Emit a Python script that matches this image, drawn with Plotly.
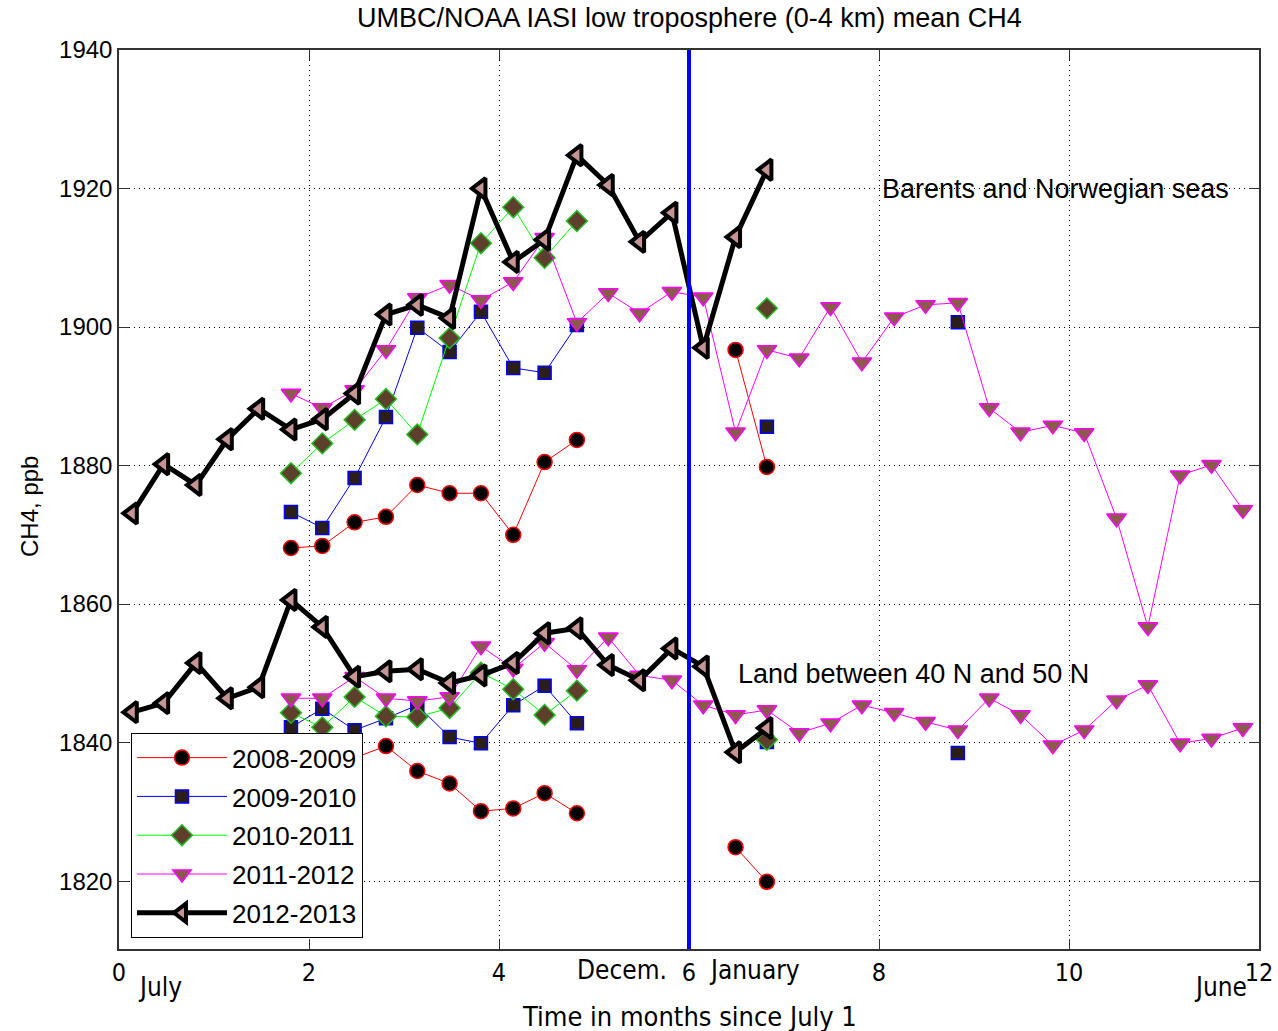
import plotly.graph_objects as go

# Time axis: ten-day steps, in months since July 1
TIME = [0.14, 0.47, 0.81, 1.14, 1.47, 1.81, 2.14, 2.48, 2.81, 3.14,
        3.48, 3.81, 4.15, 4.48, 4.82, 5.15, 5.48, 5.82, 6.15, 6.49,
        6.82, 7.16, 7.49, 7.82, 8.16, 8.49, 8.83, 9.16, 9.49, 9.83,
        10.16, 10.50, 10.83, 11.17, 11.50, 11.83]

N = None

# Barents and Norwegian seas, mean CH4 (ppb), one value per ten-day step
SEA_2008 = [N, N, N, N, N, 1868.1, 1868.4, 1871.8, 1872.6, 1877.2,
            1876.0, 1876.0, 1870.0, 1880.5, 1883.7, N, N, N, N, 1896.7,
            1879.8, N, N, N, N, N, N, N, N, N,
            N, N, N, N, N, N]
SEA_2009 = [N, N, N, N, N, 1873.3, 1871.0, 1878.2, 1887.0, 1899.9,
            1896.4, 1902.2, 1894.1, 1893.4, 1900.3, N, N, N, N, N,
            1885.6, N, N, N, N, N, 1900.7, N, N, N,
            N, N, N, N, N, N]
SEA_2010 = [N, N, N, N, N, 1878.9, 1883.2, 1886.6, 1889.6, 1884.5,
            1898.4, 1912.1, 1917.3, 1910.0, 1915.3, N, N, N, N, N,
            1902.7, N, N, N, N, N, N, N, N, N,
            N, N, N, N, N, N]
SEA_2011 = [N, N, N, N, N, 1890.4, 1888.3, 1890.9, 1896.7, 1904.2,
            1906.1, 1903.9, 1906.5, 1912.9, 1900.6, 1904.9, 1902.0, 1905.1, 1904.3, 1884.8,
            1896.7, 1895.5, 1902.9, 1894.9, 1901.4, 1903.2, 1903.5, 1888.3, 1884.8, 1885.8,
            1884.7, 1872.4, 1856.7, 1878.6, 1880.1, 1873.6]
SEA_2012 = [1873.1, 1880.2, 1877.2, 1883.8, 1888.2, 1885.2, 1886.7, 1890.4, 1901.8, 1903.2,
            1901.3, 1920.0, 1909.4, 1912.6, 1924.8, 1920.5, 1912.3, 1916.5, 1897.0, 1913.0,
            1922.7, N, N, N, N, N, N, N, N, N,
            N, N, N, N, N, N]

# Land between 40 N and 50 N, mean CH4 (ppb)
LAND_2008 = [N, N, N, N, N, 1838.6, 1838.2, 1837.8, 1839.5, 1835.9,
             1834.1, 1830.1, 1830.5, 1832.7, 1829.8, N, N, N, N, 1824.9,
             1819.9, N, N, N, N, N, N, N, N, N,
             N, N, N, N, N, N]
LAND_2009 = [N, N, N, N, N, 1842.2, 1844.9, 1841.8, 1843.5, 1845.4,
             1840.8, 1839.9, 1845.4, 1848.2, 1842.8, N, N, N, N, N,
             1840.1, N, N, N, N, N, 1838.5, N, N, N,
             N, N, N, N, N, N]
LAND_2010 = [N, N, N, N, N, 1844.3, 1842.2, 1846.6, 1843.8, 1843.7,
             1845.0, 1850.1, 1847.7, 1844.0, 1847.5, N, N, N, N, N,
             1840.4, N, N, N, N, N, N, N, N, N,
             N, N, N, N, N, N]
LAND_2011 = [N, N, N, N, N, 1846.4, 1846.4, 1849.5, 1846.4, 1846.0,
             1846.6, 1853.9, 1850.7, 1854.4, 1850.5, 1855.2, 1849.7, 1849.0, 1845.4, 1844.0,
             1844.7, 1841.4, 1842.8, 1845.4, 1844.3, 1843.0, 1841.8, 1846.4, 1844.0, 1839.6,
             1841.8, 1846.1, 1848.3, 1839.9, 1840.6, 1842.1]
LAND_2012 = [1844.4, 1845.7, 1851.5, 1846.4, 1848.0, 1860.6, 1856.7, 1849.5, 1850.3, 1850.6,
             1848.6, 1849.7, 1851.5, 1855.8, 1856.5, 1851.2, 1849.0, 1853.6, 1851.0, 1838.6,
             1842.1, N, N, N, N, N, N, N, N, N,
             N, N, N, N, N, N]

SEASONS = ["2008-2009", "2009-2010", "2010-2011", "2011-2012", "2012-2013"]
SEA = [SEA_2008, SEA_2009, SEA_2010, SEA_2011, SEA_2012]
LAND = [LAND_2008, LAND_2009, LAND_2010, LAND_2011, LAND_2012]

X_TICKS = [0, 2, 4, 6, 8, 10, 12]
Y_TICKS = [1820, 1840, 1860, 1880, 1900, 1920, 1940]

STYLES = [
    dict(line=dict(color="#ff0000", width=1),
         marker=dict(symbol="circle", size=15, color="#000000",
                     line=dict(color="#ff0000", width=1.5))),
    dict(line=dict(color="#0000ff", width=1),
         marker=dict(symbol="square", size=13, color="#2b1d18",
                     line=dict(color="#0000ff", width=1.5))),
    dict(line=dict(color="#00ff00", width=1),
         marker=dict(symbol="diamond", size=16, color="#5e3f2c",
                     line=dict(color="#22bb22", width=1.5))),
    dict(line=dict(color="#ff00ff", width=1),
         marker=dict(symbol="triangle-down", size=17, color="#8b5a4b",
                     line=dict(color="#ff00ff", width=1.5))),
    dict(line=dict(color="#000000", width=5),
         marker=dict(symbol="triangle-left", size=18, color="#c79494",
                     line=dict(color="#000000", width=4))),
]

FONT = "Liberation Sans, Arial, sans-serif"
NARROW = "Liberation Sans Narrow, DejaVu Sans Condensed, Liberation Sans, sans-serif"

fig = go.Figure()
for name, sea, land, st in zip(SEASONS, SEA, LAND, STYLES):
    for vals, show in ((sea, True), (land, False)):
        fig.add_trace(go.Scatter(
            x=TIME, y=vals, mode="lines+markers", name=name,
            legendgroup=name, showlegend=show, connectgaps=False,
            line=st["line"], marker=st["marker"],
        ))

# December / January boundary
fig.add_shape(type="line", xref="x", yref="paper", x0=6, x1=6, y0=0, y1=1,
              line=dict(color="#0000ff", width=4))


def note(text, **kw):
    base = dict(text=text, showarrow=False, xanchor="center", yanchor="middle")
    base.update(kw)
    return base


ann = [
    note("UMBC/NOAA IASI low troposphere (0-4 km) mean CH4",
         xref="paper", yref="paper", x=0.5, y=1, yshift=32, font=dict(size=27)),
    note("Barents and Norwegian seas", xref="x", yref="y",
         x=8.01, y=1920, xanchor="left", font=dict(size=27)),
    note("Land between 40 N and 50 N", xref="x", yref="y",
         x=6.49, y=1849.9, xanchor="left", font=dict(size=27)),
    note("CH4, ppb", xref="paper", yref="paper", x=0, xshift=-89,
         y=0.4917, textangle=-90, font=dict(size=24)),
    note("Time in months since July 1", xref="x", yref="paper",
         x=6, y=0, yshift=-67, font=dict(size=27, family=NARROW)),
    note("July", xref="x", yref="paper", x=0.43, y=0, yshift=-38,
         font=dict(size=26, family=NARROW)),
    note("Decem.", xref="x", yref="paper", x=5.29, y=0, yshift=-21,
         font=dict(size=26, family=NARROW)),
    note("January", xref="x", yref="paper", x=6.69, y=0, yshift=-21,
         font=dict(size=26, family=NARROW)),
    note("June", xref="x", yref="paper", x=11.59, y=0, yshift=-38,
         font=dict(size=26, family=NARROW)),
]

axis_common = dict(
    showline=True, linecolor="#333333", linewidth=1.5, mirror="allticks",
    ticks="inside", ticklen=10, tickcolor="#333333", tickwidth=1.2,
    showgrid=True, gridcolor="#000000", griddash="1px,4px", gridwidth=1.2,
    zeroline=False, automargin=False,
)

fig.update_layout(
    width=1278, height=1031,
    margin=dict(l=119, r=19, t=50, b=82),
    paper_bgcolor="white", plot_bgcolor="white",
    font=dict(family=FONT, color="#000000", size=22),
    xaxis=dict(range=[0, 12], tickvals=X_TICKS, ticktext=[str(v) for v in X_TICKS],
               tickfont=dict(size=25, family=NARROW), **axis_common),
    yaxis=dict(range=[1810.2, 1940], tickvals=Y_TICKS,
               tickfont=dict(size=24), **axis_common),
    showlegend=True,
    legend=dict(x=0.0105, y=0.012, xanchor="left", yanchor="bottom",
                bgcolor="white", bordercolor="#000000", borderwidth=1,
                font=dict(size=26), itemwidth=90, tracegroupgap=2,
                traceorder="grouped"),
    annotations=ann,
)

fig.write_html("out.html")
